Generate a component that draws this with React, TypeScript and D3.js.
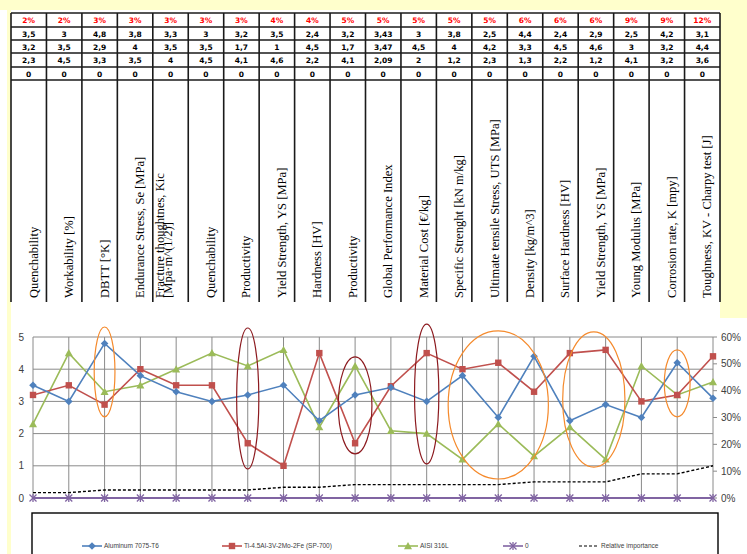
import React from 'react';
import * as d3 from 'd3';

// criteria shown in the table header, left to right
const criteria: string[][] = [
  ['Quenchability'],
  ['Workability [%]'],
  ['DBTT [°K]'],
  ['Endurance Stress, Se [MPa]'],
  ['Fracture thoughtnes, Kic', '[Mpa·m^(1/2)]'],
  ['Quenchability'],
  ['Productivity'],
  ['Yield Strength, YS [MPa]'],
  ['Hardness [HV]'],
  ['Productivity'],
  ['Global Performance Index'],
  ['Material Cost [€/kg]'],
  ['Specific Strenght [kN m/kg]'],
  ['Ultimate tensile Stress, UTS [MPa]'],
  ['Density [kg/m^3]'],
  ['Surface Hardness [HV]'],
  ['Yield Strength, YS [MPa]'],
  ['Young Modulus [MPa]'],
  ['Corrosion rate, K [mpy]'],
  ['Toughness, KV - Charpy test [J]'],
];

const weights = [2, 2, 3, 3, 3, 3, 3, 4, 4, 5, 5, 5, 5, 5, 6, 6, 6, 9, 9, 12];
const aluminum = [3.5, 3, 4.8, 3.8, 3.3, 3, 3.2, 3.5, 2.4, 3.2, 3.43, 3, 3.8, 2.5, 4.4, 2.4, 2.9, 2.5, 4.2, 3.1];
const titanium = [3.2, 3.5, 2.9, 4, 3.5, 3.5, 1.7, 1, 4.5, 1.7, 3.47, 4.5, 4, 4.2, 3.3, 4.5, 4.6, 3, 3.2, 4.4];
const aisi = [2.3, 4.5, 3.3, 3.5, 4, 4.5, 4.1, 4.6, 2.2, 4.1, 2.09, 2, 1.2, 2.3, 1.3, 2.2, 1.2, 4.1, 3.2, 3.6];
const zeros = [0, 0, 0, 0, 0, 0, 0, 0, 0, 0, 0, 0, 0, 0, 0, 0, 0, 0, 0, 0];

const leftTicks = [0, 1, 2, 3, 4, 5];
const rightTicks = [0, 0.1, 0.2, 0.3, 0.4, 0.5, 0.6];

// hand-drawn highlight ellipses: centre index, half width (in categories), value range
const highlights = [
  { c: 2, w: 0.29, lo: 2.52, hi: 5.31, color: '#f58a2c' },
  { c: 6, w: 0.31, lo: 0.9, hi: 5.28, color: '#8c1a1f' },
  { c: 9, w: 0.47, lo: 1.37, hi: 4.38, color: '#8c1a1f' },
  { c: 11, w: 0.34, lo: 1.06, hi: 5.4, color: '#8c1a1f' },
  { c: 13, w: 1.4, lo: 0.59, hi: 5.19, color: '#f58a2c' },
  { c: 15.67, w: 0.87, lo: 0.96, hi: 5.16, color: '#f58a2c' },
  { c: 18, w: 0.36, lo: 2.52, hi: 4.6, color: '#f58a2c' },
];

const BLUE = '#4f81bd';
const RED = '#c0504d';
const GREEN = '#9bbb59';
const PURPLE = '#8064a2';

const fmt = (v: number) => String(v).replace('.', ',');

const W = 747;
const H = 554;

export default function App() {
  const idx = d3.range(criteria.length);
  const col = d3.scaleBand<number>().domain(idx).range([11, 720]).paddingInner(0).paddingOuter(0);
  const rowTop = [13, 27, 40, 53, 67, 80];
  const labelBottom = 302;

  const x = d3.scaleLinear().domain([0, 19]).range([33, 713]);
  const y = d3.scaleLinear().domain([0, 5]).range([498, 337]);
  const y2 = d3.scaleLinear().domain([0, 0.6]).range([498, 337]);

  const line = d3
    .line<number>()
    .x((_d, i) => x(i))
    .y((d) => y(d));
  const line2 = d3
    .line<number>()
    .x((_d, i) => x(i))
    .y((d) => y2(d / 100));

  const tableRows = [aluminum, titanium, aisi, zeros];

  const diamond = (cx: number, cy: number, r: number) =>
    `M${cx},${cy - r}L${cx + r},${cy}L${cx},${cy + r}L${cx - r},${cy}Z`;
  const tri = (cx: number, cy: number, r: number) =>
    `M${cx},${cy - r}L${cx + r},${cy + r * 0.8}L${cx - r},${cy + r * 0.8}Z`;

  const legend = [
    { name: 'Aluminum 7075-T6', color: BLUE, mark: 'diamond', x0: 82 },
    { name: 'Ti-4.5Al-3V-2Mo-2Fe (SP-700)', color: RED, mark: 'square', x0: 222 },
    { name: 'AISI 316L', color: GREEN, mark: 'tri', x0: 398 },
    { name: '0', color: PURPLE, mark: 'x', x0: 503 },
    { name: 'Relative importance', color: '#000', mark: 'dash', x0: 579 },
  ];

  const drawMark = (mark: string, cx: number, cy: number, color: string, key: string | number) => {
    if (mark === 'diamond') return <path key={key} d={diamond(cx, cy, 3.8)} fill={color} />;
    if (mark === 'square') return <rect key={key} x={cx - 3.2} y={cy - 3.2} width={6.4} height={6.4} fill={color} />;
    if (mark === 'tri') return <path key={key} d={tri(cx, cy, 4)} fill={color} />;
    if (mark === 'x')
      return (
        <g key={key} stroke={color} strokeWidth={1.3}>
          <line x1={cx - 3.5} y1={cy - 3.5} x2={cx + 3.5} y2={cy + 3.5} />
          <line x1={cx - 3.5} y1={cy + 3.5} x2={cx + 3.5} y2={cy - 3.5} />
          <line x1={cx} y1={cy - 4} x2={cx} y2={cy + 4} />
        </g>
      );
    return null;
  };

  return (
    <svg width={W} height={H} style={{ position: 'fixed', left: 0, top: 0, background: '#fff' }}>
      {/* page background */}
      <rect x={0} y={0} width={W} height={10} fill="#ffffcc" />
      <rect x={720} y={0} width={27} height={318} fill="#ffffcc" />
      <rect x={7} y={0} width={4} height={H} fill="#ffffcc" />
      <rect x={11} y={10} width={709} height={3} fill="#fff" />

      {/* table */}
      <g fontFamily="'DejaVu Sans', sans-serif" fontSize={7.5} fontWeight="bold" textAnchor="middle">
        {idx.map((i) => (
          <text key={'w' + i} x={col(i)! + col.bandwidth() / 2} y={rowTop[0] + 10} fill="#ff0000">
            {weights[i]}%
          </text>
        ))}
        {tableRows.map((row, r) =>
          row.map((v, i) => (
            <text key={r + '-' + i} x={col(i)! + col.bandwidth() / 2} y={rowTop[r + 1] + 10} fill="#000">
              {fmt(v)}
            </text>
          ))
        )}
      </g>
      <g stroke="#1a1a1a" strokeWidth={1.6}>
        {rowTop.map((t) => (
          <line key={'h' + t} x1={11} x2={720} y1={t} y2={t} />
        ))}
        {[...idx, 20].map((i) => {
          const xx = i < 20 ? col(i)! : 720;
          return <line key={'v' + i} x1={xx} x2={xx} y1={13} y2={labelBottom} />;
        })}
      </g>
      <g fontFamily="'Liberation Serif', serif" fontSize={12.6} fill="#000">
        {criteria.map((lines, i) => {
          const c0 = col(i)!;
          return lines.map((t, k) => {
            const bx = lines.length === 1 ? c0 + col.bandwidth() / 2 + 9 : c0 + 11 + k * 8;
            return (
              <text key={i + '-' + k} transform={`translate(${bx},${labelBottom - 4}) rotate(-90)`}>
                {t}
              </text>
            );
          });
        })}
      </g>

      {/* chart gridlines */}
      <g stroke="#8a8a8a" strokeWidth={1}>
        {leftTicks.map((t) => (
          <line key={'gy' + t} x1={x(0)} x2={x(19)} y1={y(t)} y2={y(t)} />
        ))}
        {idx.map((i) => (
          <line key={'gx' + i} x1={x(i)} x2={x(i)} y1={y(5)} y2={y(0)} />
        ))}
        {rightTicks.map((t) => (
          <line key={'rt' + t} x1={x(19)} x2={x(19) + 4} y1={y2(t)} y2={y2(t)} />
        ))}
      </g>
      <g fontFamily="'Liberation Sans', sans-serif" fontSize={10} fill="#404040">
        {leftTicks.map((t) => (
          <text key={'ly' + t} x={24} y={y(t) + 3.5} textAnchor="end">
            {t}
          </text>
        ))}
        {rightTicks.map((t) => (
          <text key={'ry' + t} x={721} y={y2(t) + 3.5}>
            {d3.format('.0%')(t)}
          </text>
        ))}
      </g>

      {/* series */}
      <path d={line(aisi)!} fill="none" stroke={GREEN} strokeWidth={1.6} />
      <path d={line(titanium)!} fill="none" stroke={RED} strokeWidth={1.6} />
      <path d={line(aluminum)!} fill="none" stroke={BLUE} strokeWidth={1.6} />
      <path d={line2(weights)!} fill="none" stroke="#000" strokeWidth={1.4} strokeDasharray="3,2" />
      <path d={line(zeros)!} fill="none" stroke={PURPLE} strokeWidth={1.8} />
      {aisi.map((v, i) => drawMark('tri', x(i), y(v), GREEN, 'ta' + i))}
      {titanium.map((v, i) => drawMark('square', x(i), y(v), RED, 'tt' + i))}
      {aluminum.map((v, i) => drawMark('diamond', x(i), y(v), BLUE, 'tb' + i))}
      {zeros.map((v, i) => drawMark('x', x(i), y(v), PURPLE, 'tz' + i))}

      {/* highlights */}
      {highlights.map((h, k) => (
        <ellipse
          key={'e' + k}
          cx={x(h.c)}
          cy={(y(h.lo) + y(h.hi)) / 2}
          rx={x(h.w) - x(0)}
          ry={(y(h.lo) - y(h.hi)) / 2}
          fill="none"
          stroke={h.color}
          strokeWidth={1.2}
        />
      ))}

      {/* legend */}
      <rect x={32} y={513} width={686} height={60} fill="#fff" stroke="#000" strokeWidth={1.4} />
      <g fontFamily="'Liberation Sans', sans-serif" fontSize={6.5} fill="#404040">
        {legend.map((l) => (
          <g key={l.name}>
            <line
              x1={l.x0}
              x2={l.x0 + 20}
              y1={546}
              y2={546}
              stroke={l.color}
              strokeWidth={l.mark === 'dash' ? 1.2 : 1.6}
              strokeDasharray={l.mark === 'dash' ? '3,2' : undefined}
            />
            {drawMark(l.mark, l.x0 + 10, 546, l.color, 'lm')}
            <text x={l.x0 + 22} y={548.3}>
              {l.name}
            </text>
          </g>
        ))}
      </g>
    </svg>
  );
}
